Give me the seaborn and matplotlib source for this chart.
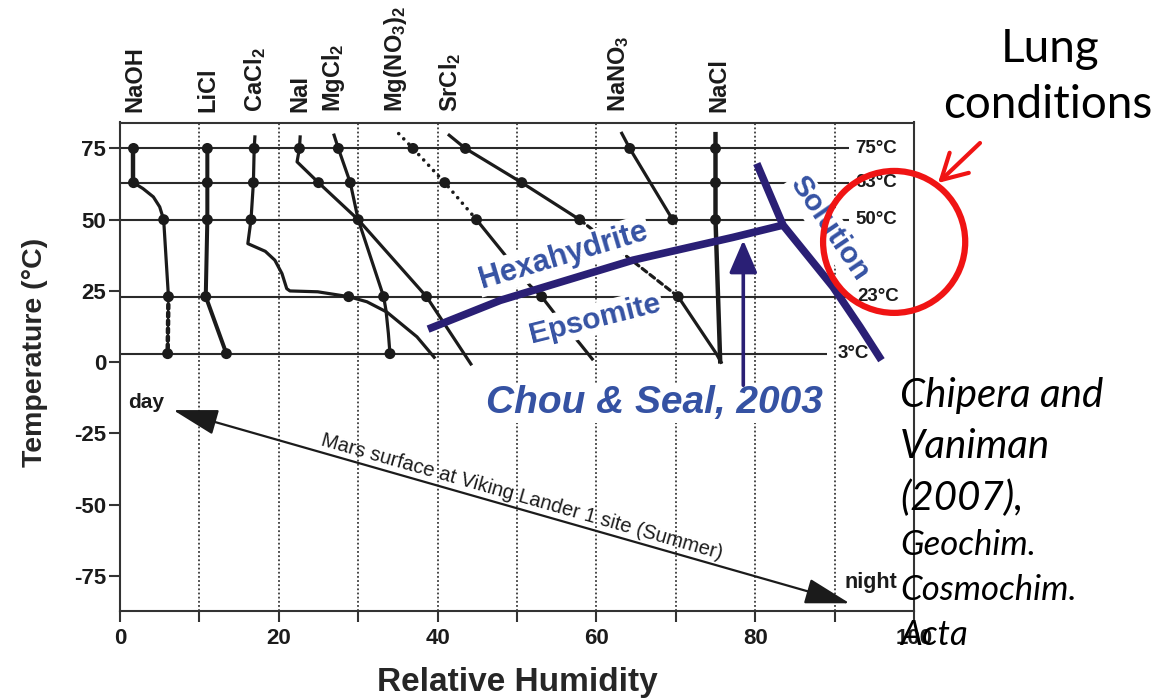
import matplotlib
matplotlib.use("Agg")
import matplotlib.pyplot as plt
import seaborn as sns
from matplotlib.patches import Ellipse

# ---------------------------------------------------------------- data
temps = [75, 63, 50, 23, 3]
temp_labels = ["75°C", "63°C", "50°C", "23°C", "3°C"]

salt_names = ["NaOH", "LiCl", "CaCl$_2$", "NaI", "MgCl$_2$",
              "Mg(NO$_3$)$_2$", "SrCl$_2$", "NaNO$_3$", "NaCl"]
salt_label_rh = [1.9, 11.1, 17.0, 22.7, 26.9, 34.7, 41.6, 62.8, 75.4]

# deliquescence relative humidity (%) against temperature (°C)
naoh_rh = [1.7, 1.7, 2.9, 4.2, 5.0, 5.5, 6.1]
naoh_t = [75, 63, 60.9, 58.0, 54.5, 50, 23]
naoh_cold_rh = [6.1, 6.0]
naoh_cold_t = [23, 3]
naoh_pts_rh = [1.7, 1.7, 5.5, 6.1, 6.0]
naoh_pts_t = [75, 63, 50, 23, 3]

licl_rh = [11.0, 11.0, 11.0, 10.8, 13.4]
licl_t = [75, 63, 50, 23, 3]

cacl2_rh = [17.0, 16.9, 16.8, 16.5, 16.1, 18.3, 19.5, 20.4, 21.0, 21.4,
            24.9, 28.8, 31.1, 33.6, 37.4, 39.7]
cacl2_t = [79.6, 75, 63, 50, 41.6, 38.9, 35.8, 31.1, 25.8, 25.0,
           24.7, 23, 21.2, 17.6, 8.9, 1.3]
cacl2_pts_rh = [16.9, 16.8, 16.5, 28.8]
cacl2_pts_t = [75, 63, 50, 23]

nai_rh = [22.7, 22.6, 22.3, 25.0, 30.0, 38.6, 44.3]
nai_t = [79.6, 75, 70.3, 63, 50, 23, -1.1]
nai_pts_rh = [22.6, 25.0, 30.0, 38.6]
nai_pts_t = [75, 63, 50, 23]

mgcl2_rh = [26.9, 27.5, 29.0, 30.0, 33.2, 33.5, 33.8, 34.0]
mgcl2_t = [80.2, 75, 63, 50, 23, 18.2, 10.1, 3]
mgcl2_pts_rh = [27.5, 29.0, 33.2, 34.0]
mgcl2_pts_t = [75, 63, 23, 3]

mgno32_hot_rh = [35.1, 36.9, 40.9, 44.9]
mgno32_hot_t = [80.2, 75, 63, 50]
mgno32_rh = [44.9, 48.7, 51.6, 53.1, 54.6, 57.9, 59.6]
mgno32_t = [50, 36.9, 27.0, 23, 17.6, 6.6, 0.7]
mgno32_pts_rh = [36.9, 40.9, 44.9, 53.1]
mgno32_pts_t = [75, 63, 50, 23]

srcl2_hot_rh = [41.3, 43.5, 50.6, 57.9]
srcl2_hot_t = [80.0, 75, 63, 50]
srcl2_mid_rh = [57.9, 70.3]
srcl2_mid_t = [50, 23]
srcl2_cold_rh = [70.3, 75.1, 75.8]
srcl2_cold_t = [23, 3.0, -0.5]
srcl2_pts_rh = [43.5, 50.6, 57.9, 70.3]
srcl2_pts_t = [75, 63, 50, 23]

nano3_rh = [63.1, 64.2, 69.6]
nano3_t = [80.8, 75, 50]
nano3_pts_rh = [64.2, 69.6]
nano3_pts_t = [75, 50]

nacl_rh = [75.0, 75.0, 75.0, 75.0, 75.6]
nacl_t = [80.8, 75, 63, 50, -0.5]
nacl_pts_rh = [75.0, 75.0, 75.0]
nacl_pts_t = [75, 63, 50]

# MgSO4 hydrate boundaries
hexa_rh = [38.8, 47.9, 64.6, 77.2, 83.5]
hexa_t = [11.6, 21.7, 35.8, 43.8, 48.1]
soln_rh = [80.2, 83.5, 89.8, 93.2, 95.9]
soln_t = [69.7, 48.1, 26.4, 12.4, 0.7]

# Mars surface day/night excursion (RH, T)
mars_day = (6.7, -16.8)
mars_night = (91.9, -84.6)

citation = ["Chipera and", "Vaniman", "(2007),", "Geochim.", "Cosmochim.", "Acta"]

# ---------------------------------------------------------------- style
sns.set_theme(style="ticks")
plt.rcParams["font.family"] = ["Liberation Sans", "DejaVu Sans"]
plt.rcParams["axes.unicode_minus"] = False
plt.rcParams["mathtext.fontset"] = "custom"
plt.rcParams["mathtext.rm"] = "Liberation Sans:bold"
plt.rcParams["mathtext.it"] = "Liberation Sans:bold"
plt.rcParams["mathtext.bf"] = "Liberation Sans:bold"
plt.rcParams["mathtext.default"] = "rm"

INK = "#1b1b1b"
FRAME = "#333333"
NAVY = "#2a1f75"
BLUE = "#3552a3"
RED = "#f01414"
NOTE_FONT = ["Lato", "Open Sans", "DejaVu Sans"]

W, H = 1155, 699
fig = plt.figure(figsize=(W / 100, H / 100), dpi=100)
ax = fig.add_axes([120 / W, 1 - 611 / H, 794 / W, (611 - 122.5) / H])


def fx(px):
    return px / W


def fy(py):
    return 1 - py / H


def curve(rh, t, lw=2.3, ls="-", color=INK, z=3):
    sns.lineplot(x=rh, y=t, sort=False, estimator=None, ax=ax, color=color,
                 linewidth=lw, linestyle=ls, zorder=z,
                 solid_capstyle="butt", dash_capstyle="round")


def nodes(rh, t):
    sns.scatterplot(x=rh, y=t, ax=ax, s=62, color=INK, edgecolor="none",
                    zorder=4, legend=False)


# grid: dotted humidity lines and solid isotherms
for x in range(10, 100, 10):
    ax.axvline(x, color="#3a3a3a", lw=1.3, ls=(0, (1, 1.3)), zorder=1)
line_end = [91.8, 91.8, 91.8, 91.8, 89.0]
label_x = [92.6, 92.6, 92.6, 92.9, 90.4]
for t, lab, xe, xl in zip(temps, temp_labels, line_end, label_x):
    ax.hlines(t, 0, xe, color="#2a2a2a", lw=1.5, zorder=2)
    ax.text(xl, t, lab, ha="left", va="center", fontsize=13.5,
            fontweight="bold", color=INK, zorder=3)

# salt deliquescence curves
curve(naoh_rh[:2], naoh_t[:2], lw=3.2)
curve(naoh_rh[1:], naoh_t[1:])
curve(naoh_cold_rh, naoh_cold_t, lw=3.2, ls=(0, (0.9, 0.9)))
nodes(naoh_pts_rh, naoh_pts_t)

curve(licl_rh, licl_t, lw=2.9)
nodes(licl_rh, licl_t)

curve(cacl2_rh, cacl2_t)
nodes(cacl2_pts_rh, cacl2_pts_t)

curve(nai_rh, nai_t)
nodes(nai_pts_rh, nai_pts_t)

curve(mgcl2_rh, mgcl2_t)
nodes(mgcl2_pts_rh, mgcl2_pts_t)

curve(mgno32_hot_rh, mgno32_hot_t, lw=2.6, ls=(0, (0.01, 2.0)))
curve(mgno32_rh, mgno32_t)
nodes(mgno32_pts_rh, mgno32_pts_t)

curve(srcl2_hot_rh, srcl2_hot_t)
curve(srcl2_mid_rh, srcl2_mid_t, ls=(0, (1.8, 1.3)))
curve(srcl2_cold_rh, srcl2_cold_t)
nodes(srcl2_pts_rh, srcl2_pts_t)

curve(nano3_rh, nano3_t)
nodes(nano3_pts_rh, nano3_pts_t)

curve(nacl_rh, nacl_t, lw=3.2)
nodes(nacl_pts_rh, nacl_pts_t)

# MgSO4 phase boundaries and their labels
curve(hexa_rh, hexa_t, lw=5.5, color=NAVY, z=6)
curve(soln_rh, soln_t, lw=5.5, color=NAVY, z=6)
box = dict(facecolor="white", edgecolor="none", pad=1.5)
ax.text(55.8, 37.4, "Hexahydrite", rotation=16.6, ha="center", va="center",
        rotation_mode="anchor", fontsize=22, fontweight="bold", color=BLUE,
        bbox=box, zorder=5)
ax.text(59.8, 15.1, "Epsomite", rotation=14.0, ha="center", va="center",
        rotation_mode="anchor", fontsize=21.5, fontweight="bold", color=BLUE,
        bbox=box, zorder=5)
ax.text(89.3, 47.0, "Solution", rotation=-55.8, ha="center", va="center",
        rotation_mode="anchor", fontsize=21.5, fontweight="bold", color=BLUE,
        bbox=box, zorder=5)

ax.annotate("", xy=(78.5, 42.8), xytext=(78.5, -8.1),
            arrowprops=dict(arrowstyle="-|>,head_length=1.0,head_width=0.43",
                            mutation_scale=20, color=NAVY, lw=2.6,
                            shrinkA=0, shrinkB=0), zorder=6)
ax.text(67.3, -14.4, "Chou & Seal, 2003", ha="center", va="center",
        fontsize=28, fontweight="bold", fontstyle="italic", color=BLUE,
        bbox=box, zorder=5)

# Mars surface track
ax.annotate("", xy=mars_day, xytext=mars_night,
            arrowprops=dict(arrowstyle="<|-|>,head_length=1.4,head_width=0.4",
                            mutation_scale=20, color=INK, lw=1.6,
                            shrinkA=0, shrinkB=0), zorder=6)
ax.text(50.6, -47.2, "Mars surface at Viking Lander 1 site (Summer)",
        rotation=-15.9, rotation_mode="anchor", ha="center", va="center",
        fontsize=14.5, color=INK, zorder=6)
ax.text(1.0, -14.0, "day", ha="left", va="center", fontsize=15,
        fontweight="bold", color=INK, zorder=6)
ax.text(91.3, -77.2, "night", ha="left", va="center", fontsize=15.5,
        fontweight="bold", color=INK, zorder=6, clip_on=False)

# salt names along the top
for name, x in zip(salt_names, salt_label_rh):
    ax.text(x, 1.0215, name, transform=ax.get_xaxis_transform(), rotation=90,
            ha="center", va="bottom", fontsize=17, fontweight="bold", color=INK)

# axes
ax.set_xlim(0, 100)
ax.set_ylim(-87.3, 84.1)
ax.set_xticks(range(0, 101, 10))
ax.set_xticklabels([str(v) if v % 20 == 0 else "" for v in range(0, 101, 10)])
ax.set_yticks([-75, -50, -25, 0, 25, 50, 75])
ax.tick_params(direction="out", length=8, width=1.5, color=FRAME,
               labelsize=16, labelcolor=INK)
ax.tick_params(axis="y", pad=2)
ax.tick_params(axis="x", pad=4)
for lbl in ax.get_xticklabels() + ax.get_yticklabels():
    lbl.set_fontweight("bold")
for sp in ax.spines.values():
    sp.set_color(FRAME)
    sp.set_linewidth(1.5)
ax.set_xlabel("Relative Humidity", fontsize=24, fontweight="bold", va="center")
ax.xaxis.set_label_coords(0.501, -0.147)
ax.set_ylabel("Temperature (°C)", fontsize=20.5, fontweight="bold",
              va="center", ha="center")
ax.yaxis.set_label_coords(-0.107, 0.530)

# lung conditions highlight
ring = Ellipse((97.5, 42.2), width=17.9, height=49.8, transform=ax.transData,
               fill=False, edgecolor=RED, lw=4.5, zorder=8, clip_on=False)
ax.add_patch(ring)
ax.annotate("", xy=(938, H - 183), xytext=(980, H - 143),
            xycoords="figure pixels", textcoords="figure pixels",
            arrowprops=dict(arrowstyle="->,head_length=0.9,head_width=0.5",
                            mutation_scale=20, color=RED, lw=3,
                            shrinkA=0, shrinkB=0), zorder=8)
fig.text(fx(1050), fy(61.7), "Lung", ha="center", va="baseline",
         fontsize=33, family=NOTE_FONT, color="black")
fig.text(fx(1048), fy(118.3), "conditions", ha="center", va="baseline",
         fontsize=33, family=NOTE_FONT, color="black")

cite_base = [406.7, 458, 510, 555, 600, 645]
cite_size = [29, 29, 29, 25, 25, 25]
for line, yb, fs in zip(citation, cite_base, cite_size):
    fig.text(fx(900), fy(yb), line, ha="left", va="baseline", fontsize=fs,
             fontstyle="italic", family=NOTE_FONT, color="black", zorder=9)

fig.savefig("out.png", dpi=100, facecolor="white")
